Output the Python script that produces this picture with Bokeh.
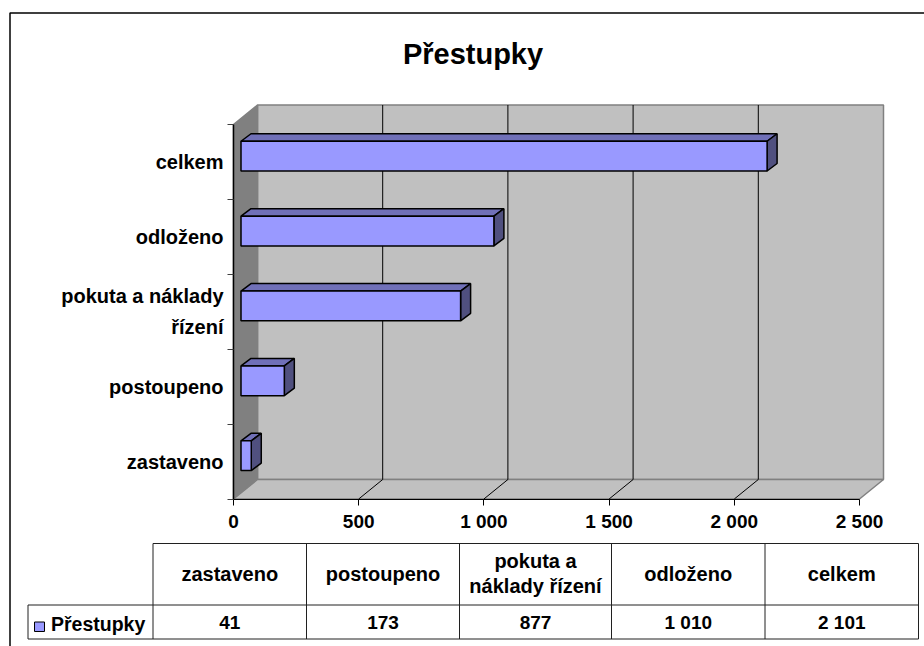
from bokeh.plotting import figure
from bokeh.models import LinearAxis, FixedTicker, Label
from bokeh.core.properties import value
from bokeh.embed import file_html
from bokeh.resources import INLINE

categories = ["zastaveno", "postoupeno", "pokuta a náklady\nřízení", "odloženo", "celkem"]
table_heads = ["zastaveno", "postoupeno", "pokuta a\nnáklady řízení", "odloženo", "celkem"]
values = [41, 173, 877, 1010, 2101]
x_ticks = [0, 500, 1000, 1500, 2000, 2500]
x_tick_labels = ["0", "500", "1 000", "1 500", "2 000", "2 500"]
series_name = "Přestupky"
title_text = "Přestupky"

W, H = 924, 646
PX_X = 125.2 / 500      # px per unit
PX_Y = 74.9             # px per category
X0, Y0 = 233.0, 498.5   # picture position of (0, 0)

def dx(px):            # picture x to data
    return (px - X0) / PX_X
def dy(py):            # picture y to data
    return (Y0 - py) / PX_Y

FONT = "Liberation Sans"
p = figure(width=W, height=H, output_backend="svg", toolbar_location=None,
           x_range=(dx(0), dx(W)), y_range=(dy(H), dy(0)),
           x_axis_type=None, y_axis_type=None, min_border=0, outline_line_color=None,
           background_fill_color="white", border_fill_color="white")
p.grid.visible = False

n = len(categories)
xmax = x_ticks[-1]
DX = 24 / PX_X
DY = 19.5 / PX_Y
WALL = "#C0C0C0"
EDGE = "#808080"

# outer frame
p.line([dx(9.5), dx(9.5), dx(924)], [dy(646), dy(12.5), dy(12.5)], line_color="black", line_width=1.5)

# walls
p.patch([DX, xmax + DX, xmax + DX, DX], [DY, DY, n + DY, n + DY], fill_color=WALL, line_color=EDGE, line_width=1.5)
p.patch([0, DX, DX, 0], [0, DY, n + DY, n], fill_color=EDGE, line_color=EDGE, line_width=1.5)
p.patch([0, xmax, xmax + DX, DX], [0, 0, DY, DY], fill_color=WALL, line_color=EDGE, line_width=1.5)

# gridlines
grid = x_ticks[1:-1]
p.segment([t + DX for t in grid], [DY] * len(grid), [t + DX for t in grid], [n + DY] * len(grid), line_color="black", line_width=1)
p.segment(grid, [0] * len(grid), [t + DX for t in grid], [DY] * len(grid), line_color="black", line_width=1)

# 3D bars
BX = 7.5 / PX_X
BDX = 10 / PX_X
BDY = 7.5 / PX_Y
BH = 0.397
BS = 0.078
for i, v in enumerate(values):
    y0 = i + 0.5 + BS - BH / 2
    y1 = y0 + BH
    x0 = BX
    x1 = BX + v
    p.patch([x0, x1, x1 + BDX, x0 + BDX], [y1, y1, y1 + BDY, y1 + BDY], fill_color="#7070B8", line_color="black", line_width=1.5)
    p.patch([x1, x1 + BDX, x1 + BDX, x1], [y0, y0 + BDY, y1 + BDY, y1], fill_color="#50507F", line_color="black", line_width=1.5)
    p.patch([x0, x1, x1, x0], [y0, y0, y1, y1], fill_color="#9999FF", line_color="black", line_width=1.5)

# axes
xax = LinearAxis(ticker=FixedTicker(ticks=x_ticks), fixed_location=0, bounds=(0, xmax))
xax.major_label_overrides = {t: s for t, s in zip(x_ticks, x_tick_labels)}
xax.major_label_text_font = FONT
xax.major_label_text_font_style = "bold"
xax.major_label_text_font_size = "19px"
xax.major_label_text_color = "black"
xax.major_label_standoff = 6
xax.major_tick_in = 0
xax.major_tick_out = 6
xax.minor_tick_line_color = None
xax.major_tick_line_color = "black"
xax.axis_line_color = "black"
p.add_layout(xax, "below")

yax = LinearAxis(ticker=FixedTicker(ticks=list(range(n + 1))), fixed_location=0, bounds=(0, n))
yax.major_label_text_color = None
yax.major_label_text_font_size = "1px"
yax.major_tick_in = 0
yax.major_tick_out = 6
yax.minor_tick_line_color = None
yax.major_tick_line_color = "#404040"
yax.axis_line_color = "black"
yax.axis_line_width = 1.5
p.add_layout(yax, "left")

# category labels
p.text([dx(223)] * n, [i + 0.5 for i in range(n)], text=categories,
       text_font=value(FONT), text_font_style="bold", text_font_size="20px",
       text_align="right", text_baseline="middle", text_color="black", text_line_height=1.4)

# title
p.add_layout(Label(x=dx(472.5), y=dy(53), text=title_text, text_font=FONT, text_font_style="bold",
                   text_font_size="29px", text_align="center", text_baseline="middle", text_color="black"))

# data table
col_x = [152.5, 306, 459, 611, 764.5, 918]
top, mid, bot, left = 543, 604.5, 638.5, 27.5
tc = "#202020"
p.segment([dx(c) for c in col_x], [dy(top)] * 6, [dx(c) for c in col_x], [dy(bot)] * 6, line_color=tc, line_width=1)
p.segment([dx(col_x[0]), dx(left), dx(left)], [dy(top), dy(mid), dy(bot)],
          [dx(col_x[-1])] * 3, [dy(top), dy(mid), dy(bot)], line_color=tc, line_width=1)
p.segment([dx(left)], [dy(mid)], [dx(left)], [dy(bot)], line_color=tc, line_width=1)
centers = [(a + b) / 2 for a, b in zip(col_x[:-1], col_x[1:])]
p.text([dx(c) for c in centers], [dy(573)] * n, text=table_heads,
       text_font=value(FONT), text_font_style="bold", text_font_size="20px",
       text_align="center", text_baseline="middle", text_color="black", text_line_height=1.15)
p.text([dx(c) for c in centers], [dy(622)] * n, text=[f"{v:,}".replace(",", " ") for v in values],
       text_font=value(FONT), text_font_style="bold", text_font_size="19px",
       text_align="center", text_baseline="middle", text_color="black")
p.text([dx(50.5)], [dy(623)], text=[series_name],
       text_font=value(FONT), text_font_style="bold", text_font_size="19.5px",
       text_align="left", text_baseline="middle", text_color="black")
p.patch([dx(34), dx(44), dx(44), dx(34)], [dy(621.5), dy(621.5), dy(631), dy(631)],
        fill_color="#9999FF", line_color="black", line_width=1)

open("out.html", "w").write(file_html(p, INLINE))
